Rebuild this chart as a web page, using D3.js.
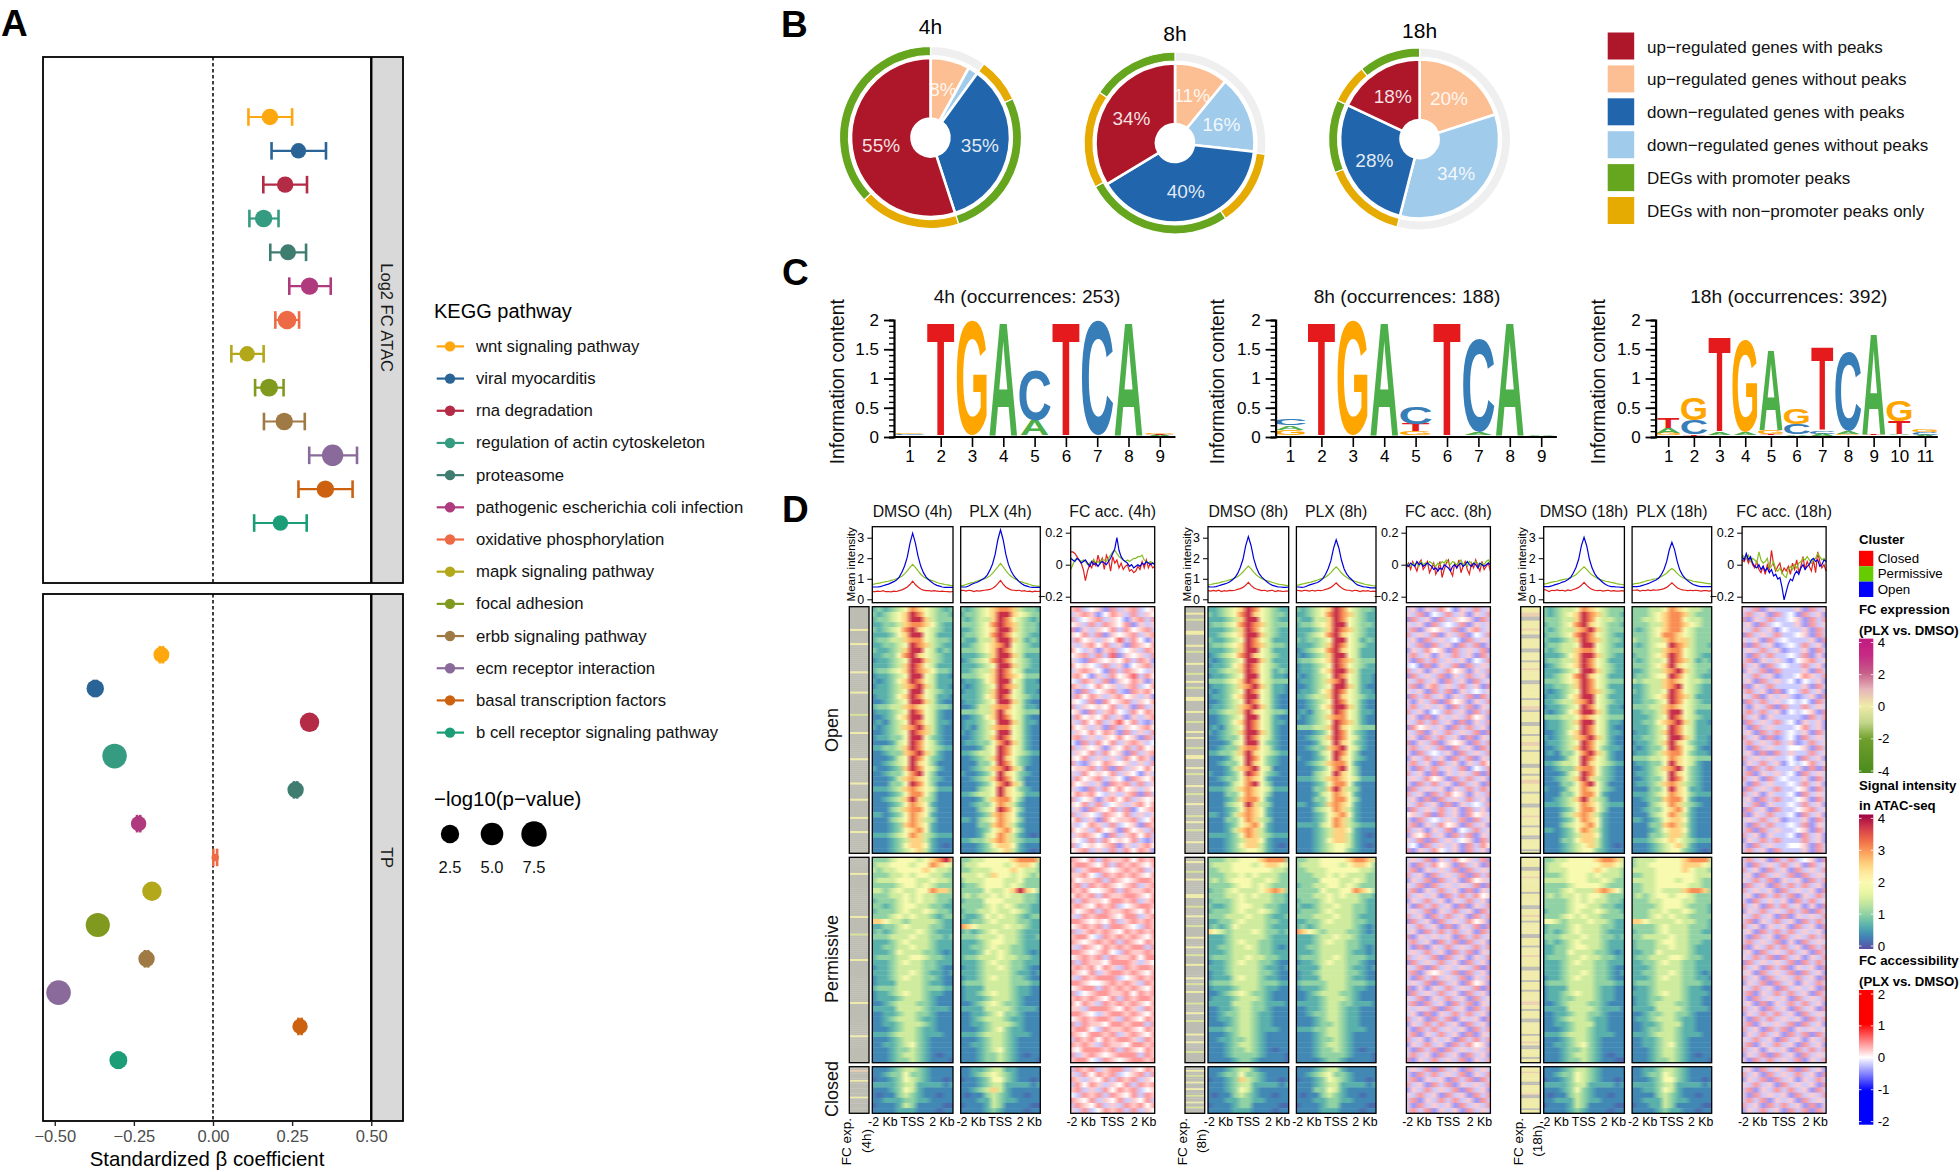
<!DOCTYPE html>
<html><head><meta charset="utf-8">
<script src="https://cdn.jsdelivr.net/npm/d3@7"></script>
<style>
html,body{margin:0;padding:0;background:#fff}
svg{display:block}
text{font-family:"Liberation Sans",Arial,sans-serif}
</style></head><body>
<svg id="c" width="1960" height="1172"></svg>
<script>
// ---------- Panel A ----------
const pathways=["wnt signaling pathway","viral myocarditis","rna degradation","regulation of actin cytoskeleton","proteasome","pathogenic escherichia coli infection","oxidative phosphorylation","mapk signaling pathway","focal adhesion","erbb signaling pathway","ecm receptor interaction","basal transcription factors","b cell receptor signaling pathway"];
const pathwayColors=["#FEA70F","#2A6496","#B42B45","#359B81","#3F7D71","#B03A7E","#EE6A45","#B3A71A","#7F9A1F","#A07A45","#8A6A9A","#CC6210","#1B9E77"];
const atacBeta=[.18,.27,.228,.16,.237,.305,.234,.108,.177,.225,.378,.355,.213];
const atacLo=[.112,.185,.159,.115,.181,.241,.197,.058,.133,.161,.304,.27,.13];
const atacHi=[.25,.357,.297,.207,.294,.372,.272,.16,.223,.29,.455,.441,.296];
const atacP=[2.1,1.9,2.1,2.3,2.0,2.3,2.6,1.9,2.4,2.3,4.3,2.3,1.9];
const tpBeta=[-.163,-.372,.305,-.311,.261,-.235,.007,-.193,-.364,-.21,-.488,.275,-.299];
const tpLo=[-.168,-.377,.3,-.316,.256,-.24,.001,-.198,-.369,-.215,-.493,.27,-.304];
const tpHi=[-.158,-.367,.31,-.306,.266,-.23,.013,-.188,-.359,-.205,-.483,.28,-.294];
const tpP=[2.0,2.3,3.1,6.8,2.1,1.9,.3,3.1,6.4,2.1,6.8,1.9,2.4];
const sizeBreaks=[2.5,5.0,7.5];
const betaTicks=[-.5,-.25,0,.25,.5];
// ---------- Panel B ----------
const pieTimes=["4h","8h","18h"];
const pieLabels=["up−regulated genes with peaks","up−regulated genes without peaks","down−regulated genes with peaks","down−regulated genes without peaks","DEGs with promoter peaks","DEGs with non−promoter peaks only"];
const pieColors=["#AE1729","#FCBF94","#2166AC","#A1CBEB","#66A61E","#E6AB02"];
const pieOrder=[1,3,2,0];
const pie4h=[55,8,35,2];
const pie8h=[34,11,40,16];
const pie18h=[18,20,28,34];
const ringKeys=["none","gold","green","gold","green"];
const ring4h=[10,8,27,18,37];
const ring8h=[27,13.6,26.4,17.4,15.6];
const ring18h=[54,15,13,7,11];
// ---------- Panel C ----------
const logo4h=[[["C",.03,.05],["G",.05,.08]],[["T",.03,1.93]],[["G",.03,1.99]],[["A",.03,1.93]],[["A",.03,.28],["C",.28,1.13]],[["T",.03,1.93]],[["C",.03,1.99]],[["A",.03,1.93]],[["A",.0,.03],["T",.03,.05],["G",.05,.08]]];
const logo8h=[[["G",.03,.12],["A",.12,.19],["C",.2,.32]],[["T",.03,1.93]],[["G",.03,1.99]],[["A",.03,1.93]],[["G",.03,.1],["T",.1,.22],["C",.22,.51]],[["T",.03,1.93]],[["A",.03,.08],["C",.08,1.69]],[["A",.03,1.93]],[["G",.0,.01],["A",.01,.02]]];
const logo18h=[[["G",.03,.07],["A",.07,.16],["T",.16,.34]],[["T",.02,.04],["C",.04,.28],["G",.28,.67]],[["A",.03,.07],["T",.1,1.69]],[["A",.03,.07],["G",.07,1.64]],[["T",.03,.05],["G",.05,.12],["A",.12,1.47]],[["A",.02,.04],["C",.05,.22],["G",.22,.48]],[["A",.02,.05],["C",.05,.1],["T",.12,1.52]],[["G",.03,.05],["A",.05,.1],["C",.1,1.45]],[["T",.03,.05],["A",.05,1.75]],[["A",.03,.05],["T",.05,.26],["G",.26,.63]],[["A",.0,.03],["C",.04,.08],["G",.08,.13]]];
const logoTitles=["4h (occurrences: 253)","8h (occurrences: 188)","18h (occurrences: 392)"];
const logoColors={A:"#4DAF4A",C:"#377EB8",G:"#FFA500",T:"#E41A1C"};
// ---------- Panel D : mean profiles ----------
const clusterNames=["Closed","Permissive","Open"];
const clusterColors=["#E0201C","#84BF20","#0000DC"];
const blue4D=[.6,.6,.6,.62,.66,.7,.74,.8,.86,.94,1.08,1.32,1.62,2.05,2.72,3.22,2.75,2.1,1.62,1.3,1.08,.95,.84,.74,.68,.64,.6,.58,.58,.58,.58];
const green4D=[.72,.75,.78,.8,.83,.86,.88,.92,.95,1.0,1.05,1.12,1.24,1.38,1.55,1.7,1.55,1.38,1.22,1.1,1.02,.96,.92,.88,.82,.78,.75,.72,.7,.68,.66];
const red4D=[.37,.37,.4,.38,.42,.37,.38,.36,.4,.38,.42,.46,.52,.6,.72,.88,.72,.6,.5,.45,.42,.42,.4,.42,.4,.38,.4,.38,.37,.36,.38];
const blue4P=[.6,.6,.6,.65,.72,.78,.82,.88,.96,1.04,1.18,1.42,1.72,2.2,2.9,3.38,2.9,2.2,1.7,1.38,1.15,1.0,.86,.76,.68,.64,.6,.58,.58,.58,.58];
const green4P=[.65,.68,.72,.76,.8,.83,.88,.92,.96,1.0,1.06,1.14,1.26,1.42,1.58,1.75,1.58,1.4,1.24,1.12,1.02,.96,.88,.85,.8,.76,.72,.68,.66,.64,.62];
const red4P=[.42,.44,.4,.44,.42,.38,.42,.4,.42,.44,.46,.48,.54,.62,.76,.92,.74,.6,.52,.46,.44,.42,.44,.4,.42,.38,.4,.36,.4,.38,.4];
const blue8D=[.62,.6,.6,.62,.66,.7,.74,.78,.84,.94,1.06,1.25,1.55,1.95,2.6,3.05,2.62,1.98,1.55,1.25,1.08,.96,.84,.74,.68,.64,.6,.6,.58,.58,.6];
const green8D=[.7,.72,.75,.78,.8,.84,.88,.9,.95,.98,1.04,1.1,1.2,1.33,1.48,1.62,1.48,1.32,1.18,1.08,1.0,.94,.9,.86,.82,.78,.74,.72,.7,.68,.66];
const red8D=[.42,.4,.43,.4,.44,.38,.42,.4,.43,.42,.44,.48,.52,.58,.68,.82,.68,.56,.5,.46,.42,.44,.4,.42,.44,.38,.42,.4,.38,.4,.4];
const blue8P=[.6,.6,.58,.6,.65,.7,.74,.78,.82,.9,1.02,1.22,1.5,1.88,2.48,2.9,2.5,1.9,1.48,1.22,1.06,.94,.8,.7,.66,.62,.6,.58,.56,.56,.56];
const green8P=[.68,.7,.74,.76,.8,.82,.86,.9,.94,.98,1.02,1.08,1.18,1.3,1.45,1.58,1.45,1.28,1.16,1.06,.98,.92,.88,.84,.8,.76,.72,.7,.68,.66,.64];
const red8P=[.44,.42,.4,.44,.42,.4,.44,.4,.44,.42,.44,.48,.52,.58,.68,.8,.66,.56,.48,.44,.44,.4,.44,.42,.38,.42,.4,.42,.38,.4,.38];
const blue18D=[.62,.62,.62,.65,.7,.74,.78,.84,.88,.96,1.06,1.28,1.55,1.95,2.6,3.02,2.6,1.95,1.52,1.24,1.06,.94,.82,.72,.66,.62,.62,.6,.6,.58,.58];
const green18D=[.74,.76,.8,.84,.86,.88,.92,.96,.98,1.0,1.06,1.12,1.2,1.32,1.46,1.58,1.46,1.3,1.18,1.1,1.02,.96,.92,.88,.86,.82,.8,.76,.74,.72,.7];
const red18D=[.48,.44,.38,.44,.42,.46,.42,.44,.4,.46,.42,.48,.52,.58,.68,.82,.68,.56,.48,.44,.42,.44,.4,.42,.44,.4,.42,.4,.4,.42,.4];
const blue18P=[.62,.62,.62,.64,.68,.72,.76,.82,.88,.94,1.02,1.2,1.45,1.82,2.4,2.78,2.42,1.85,1.42,1.18,1.02,.9,.8,.72,.68,.64,.62,.62,.62,.62,.62];
const green18P=[.72,.76,.78,.8,.84,.88,.92,.94,.98,1.0,1.05,1.1,1.18,1.27,1.4,1.5,1.4,1.26,1.14,1.06,1.0,.96,.92,.88,.86,.84,.82,.8,.78,.76,.74];
const red18P=[.44,.44,.46,.4,.44,.42,.46,.42,.46,.44,.46,.48,.52,.58,.68,.8,.68,.56,.5,.46,.44,.42,.44,.42,.44,.42,.4,.42,.42,.4,.42];
// FC accessibility profiles (hundredths)
const fcBlue4=[4,3,2,4,3,1,2,3,1,-1,2,0,1,-1,1,2,1,0,2,4,7,10,17,9,5,3,2,1,-1,0,-2,-1,0,-1,1,0,2,1,0,1,0];
const fcGreen4=[-3,0,3,4,3,2,3,2,0,1,2,3,1,2,1,3,3,2,4,6,8,9,7,5,4,3,2,3,2,3,4,4,5,5,6,3,2,1,2,1,1];
const fcRed4=[8,8,7,5,3,1,-3,-10,-4,0,-2,3,-1,6,1,4,-3,6,3,-4,5,1,3,-2,1,-3,-1,0,-4,-3,-5,-4,-1,-3,2,-2,3,-2,1,-2,-1];
const fcBlue8=[0,-1,1,0,-1,2,0,1,-1,0,1,0,-1,-3,-2,-4,-2,-3,0,-1,-2,-4,-1,0,-2,0,1,-1,0,2,0,-1,1,0,-2,1,0,-1,0,1,0];
const fcGreen8=[1,0,-1,1,0,1,-1,2,0,1,0,2,1,0,-1,1,0,2,1,3,1,0,2,1,0,1,3,0,1,-1,2,1,0,2,1,-1,1,0,2,3,1];
const fcRed8=[-2,1,-3,2,-1,-4,1,3,-3,-1,2,-5,-2,1,-6,-3,2,-8,-3,1,3,-4,-7,1,-2,3,-5,-1,2,-3,-6,1,-2,3,-1,-4,2,-3,-1,1,-4];
const fcBlue18=[5,3,7,3,5,1,-1,-2,0,-3,-1,-4,-2,-5,-3,-7,-6,-9,-8,-14,-22,-17,-12,-9,-10,-6,-4,-6,-2,0,-3,-1,0,3,4,2,3,-1,0,3,2];
const fcGreen18=[6,5,4,6,2,4,3,1,8,3,1,2,4,-2,-1,2,-3,-4,-2,-5,-7,-8,-3,-1,-3,0,-2,1,2,4,3,5,3,1,3,4,7,5,3,4,2];
const fcRed18=[3,2,5,1,4,0,-2,2,-3,-5,-1,-6,0,-3,9,0,-4,-1,1,-5,-2,-4,-1,-6,1,-3,3,-5,-1,5,-3,2,-1,-4,3,-5,8,2,-2,0,-4];
// ---------- Panel D : heatmaps, coarse reading; digit = index in signalLevels ----------
const signalLevels=[.2,.4,.7,1.05,1.45,1.9,2.5,3.0,3.7];
const dmso4h=["2323457654323","3234568754332","2334568864333","2233467765322","3234578654322","2223568854222","2334467754332","2233458764322","3223468854232","2233578654322","1223458864322","2223468754222","2334568765332","1223458854221","2123568754222","1223467864221","2223458854322","1223568754221","1123458864211","2334467654332","1223458754211","1123568854211","1213458754221","2123467864211","1123458764211","1223358853211","1112458754211","2233468754322","1123367864211","1112458753211","1123458653111","2112368754211","1123357853111","1112467653211","1113358753111","2223467654222","1112357753111","1123468643111","1112357652111","1113467753111","2212357652111","1113457643111","1112367652111","1112356752111","2223457643222","1112346642111","1112356652101","1112345642111",
"3334555456786","3445554557654","4344555565443","3334454554433","3444555445443","3333455454333","4434544557663","3334454544333","2333454544332","3323455443322","2333454454332","3334545443233","6654434444322","2233454443322","2323444543222","3334445443323","2223454443222","2233445443222","2223544433212","2333445543322","2223454433222","1223444433211","2223445432212","1223454433211","1222444432211","2333444433322","1223454432211","1222344432111","1123444332111","2222444432221","1122344332111","1123444322111","1122344432111","1112344322111","2223444322211","1112344321111","1122345321111","1112334321111","1112344321011","1112334321110",
"1112344321111","1123353321111","0112354321101","2222344222212","1112354211111","1011343211011","1122233221111","0111243111100","1111222111011"];
const plx4h=["3234567764332","2334568865433","3234468754323","3334578764332","2234568864332","2334578754322","3224468864232","2234567854322","3334568754333","2223468864222","1234578754322","2223458864322","2234468754222","3334568765333","1223568854221","2123458764222","1223468854221","2223568754322","1223458864211","1124467754221","3334468654333","1123568754211","1223458864221","1213467754211","2123458854211","1123468754211","1223357864211","1112458754211","2234458754322","1123468653211","1113358753211","1123467864111","2112358653211","1123468753111","1112357864111","1113458653211","2234458654222","1112467753111","1123357642111","1113458753111","1112367652111","2213457653111","1113367642111","1112356753111","1112457642101","2233467643222","1112356652111","1112345642101",
"3344555567774","3445555456653","3344455565443","4445465545434","3444555445333","2334555454333","3333544568653","3434454544332","2333555444332","3333454543322","2334454454322","3223545443233","2233454443322","7654444544322","2323454443222","3334445443223","2223455443222","2233454433222","2223545433212","2334445443322","2223454433222","1223445433211","2223444432212","1223454433211","2333444433322","1222444432211","1223454432211","1222344432111","1123454332111","2222444432221","1122345332111","1123444322111","1122344432111","1112345322111","2223444322211","1112344321111","1122344321111","1112345321111","1112334321011","1112334321110",
"1122344221111","1123454321111","0112355321101","1112344222212","1123464211111","1011343211011","1112243221111","0111243111100","1111232111011"];
const dmso8h=["2234568754322","3234578654332","2223468854322","2334578764333","2223468754322","2234568864322","3223458754222","2334568764332","2223468854222","1234578654322","2123458864222","1223568754322","2234468754232","1223458854221","3334568754333","1223467864221","2123458754221","1223568854211","1123458754211","1223467864211","2234468654332","1123458854211","1123568754221","1213458754211","2123468864211","1123358754211","1112458853211","1123367754211","2233468654322","1112458753211","1123358653211","1112467854111","2112358753211","1123357652111","1112457853111","2223467654222","1113357653111","1112367752111","1113458643111","1112357652111","2212467652111","1113357643111","1112356752111","1112467642111","2222357643222","1112346652111","1112356642101","1112345542111",
"3334455567773","3444555456654","3344555555443","3334454544433","3434555445433","3333455454333","2334544456763","3334454544332","2333454444332","3223455443322","2333454454322","3334445443223","2233454443322","2323544443222","6543444543323","2223444443222","2223454433222","2233445433212","2223444433222","2333445443322","1223454433211","2223444432212","1223444433211","1222454432211","2333444433322","1222344432211","1123454332111","1222344432111","2222444332221","1122344332111","1123344322111","1122344322111","1112344322111","2223344322211","1112344321111","1122334321111","1112344321111","1112334321011","1112333321110","1111233211110",
"1112344211111","1123353321111","0112364321101","1112344222212","1112354211111","1011343211011","1112233221111","0111233111100","1111222111011"];
const plx8h=["3234568754332","2234578764322","3224468754322","2334568854332","2223468764322","2234578654322","3233458854232","2223468754322","1234578654222","2123468854222","2334568764333","1223458754322","1223568864222","2123458754221","1223467854221","1123458864211","1223568754221","2234468654322","1123458754211","1123568864211","1213458754221","2123467754211","1123458764211","3334468654333","1112358753211","1123468754211","1112458653211","1123367854211","1112458753111","2112358653211","1123467752111","1112357853111","1113458653111","2223467654222","1112357752111","1113368643111","1112457652111","1113357753111","2212367652111","1113457642111","1112356752111","1112357642111","2222457643222","1112346652111","1112346642101","1112356642111","1112345542101","1112345532111",
"3344555567764","3444555456653","3344455555443","3334454544433","3333555445433","2334455454333","3333544557653","3334454544332","2333454444322","3223445443322","2333454443322","3334445443222","2233454443322","2323444443212","7654344433212","2223445443222","2223454433222","2233444433212","2223444432212","2333445433322","1223454433211","2222444432212","1223444433211","1222444432211","2333344433322","1222344432211","1123444332111","1122344432111","2222344332221","1122344322111","1123344322111","1112344322111","1112334322111","2223344322211","1112344321111","1112334321111","1112344321111","1112334321011","1112333321110","1111233211110",
"1112344211111","1123453321111","0112354321101","1112344222212","1113354211111","1011343211011","1112233221111","0111233111100","1111222111011"];
const dmso18h=["3234457654333","3234568764332","3334468754433","2334578654332","3234467864333","2334578754322","3223468764332","2334458854322","3234467754333","2223568864322","2334468754222","1234568754322","2223458864322","2234578654222","3334568754333","2233468754222","2123458764322","1223568854222","2234467854322","1223458754221","2123568864222","3334457654333","1223468854221","1223458754211","1123568754221","2123467864211","1223458754211","1123468753221","1213357864211","1112458754211","2234458654322","1123367753211","1112458753211","1123468643211","1113357853111","2112457653211","1113357752111","1123468643111","2223457653222","1112357753111","1113467642111","1112357652111","1113456752111","2212357642111","1112346652111","1113356642111","1112345642101","1112345532111",
"3344555567764","3445555556654","3444555565443","3334555454443","4444555445433","3333455554333","3334544467653","3434454554333","3333454544332","3333455443322","2333454454332","3334545443333","5543444544322","2333454443322","2323454443222","3334445443323","2323454443222","2233455443222","2233544433212","2333445443322","2223454433222","2223444433211","2223445433212","1223454433211","2333444433322","1222444432211","1223454432211","1223344432211","1123444332111","2222444432221","1122344332111","1123444322111","1122344422111","1112344322111","2223444322211","1112344321111","1122345321111","1112334321111","1112344321011","1112334321100",
"1112344321111","1123354321111","0112354321101","2222344222212","1112353211111","1011343211011","1122243221111","0111243111100","1111232111011"];
const plx18h=["3334457654433","3334567764333","3344567754433","3334467765433","3234567754333","3334577654333","4334467664333","3234558764332","3334467754333","2334568754322","3234458764232","3334568654333","2234467864332","2334558754322","4344467654433","2234467854322","3234458754322","2234568764222","2233458754322","3334467654333","2233468854222","2223458754322","2233567864221","2223458754222","1223468754222","2233458864221","1223468653221","2123358754211","1223467753221","3334457654333","1223358654211","1123467853211","1223458653211","1123358753211","1223467643211","1113358652211","2223457653222","1123367752111","1113457643211","1123356752111","1113457642111","2212356652111","1113367642111","1112356652111","1113346642111","2223456543222","1112345642111","1112345532101",
"3444555567774","3445555566654","4444555565443","3344555555444","4444555455433","3344555554433","3344544467763","3434554554333","3334455544333","3333455543332","3334454454332","3334545443333","6654444544332","3333454443332","2333454443322","3344445443333","2333455443322","2333445443222","2233544443222","2334445543322","2233454433222","2223444433222","2233445433212","2223454433221","2333444433322","1223444432211","2223454432221","1223344432211","1223444332211","2222444432221","1123344332111","1223444322111","1122344422111","1123344322111","2223444322211","1122344321111","1122345321111","1112344321111","1112344321011","1112334321110",
"1122344321111","1123354321111","1112355321101","2222344222212","1122354211111","1111343211011","1122243221111","0112243111100","1111232211011"];
// FC accessibility maps: digit d = (d-4)/5
const fcUnit=.2;
const fc4h=["5634526356345","3565246536354","6345635425636","4536365462535","6253546364563","5463625456356","3645354736425","5356463526546","6435256345365","4563637254536","5326545463652","6454363524563","3565426365435","5642536457364","4365362546525","6534645356346","5263456326564","3646535645352","5436264563546","6354546352635","4526356436465","3645463525356","5364635746325","6453526354564","3546465263536","5635354645263","4263646356534","6354525463645","3546364526356","5463535364652","6325465453536","4556362635464","5364546354253","3645635426546","6453526563635","5326364645354","4656435356263","6345256463545","5463634535646","3526546362456","6354365463535","4635264556346","5346536345265","6453645264536","3565426356463","5436364546325","6345456253564","4563536364652",
"6546365564656","5665463656546","6356654565635","5564365656546","6455636545665","5636565456356","6564456365565","4656365566546","6365546656356","5654656345665","6456365565464","5365665466356","6654546356565","4565636654365","6356565465656","5664365656546","6545656365465","5365465656636","6654564365565","4565636556466","6365546665354","5656465365665","6546356656546","5365666345656","6654456565365","4566365656546","6345665564656","5656546365665","6465365656546","5536665465365","6654356656546","4565665365465","6365546656636","5664365565465","6546656356546","3656465665365","6565365546656","5466656365465","6356545666365","5664365456656",
"3656356635465","5364656345636","6535463656354","3646535463656","5635364656345","4365636546365","6546354635463","3654635365646","5363465636354"];
const fc8h=["3525364253635","5362436352536","2635263545263","5352634362535","3625453625635","6353625362436","3526353426353","5362635263625","2536452635362","3635253635263","5263635352436","3426253626353","6352536452536","2635362536352","5363526352635","3625635363526","5352636253435","2636352536263","5253626452536","3635352636253","6352436352636","3526253536452","5363635262536","2645352636352","5362536353626","3526363526253","6253625452636","3635362635263","5263435263536","2536352636253","3635263525364","5263635362436","6352625353626","3536452636352","5263635263526","2635352536363","6352636452536","3526263536352","5363526253436","2635363526352","4536263526453","5263435362635","3625364526352","6352536243635","2546352636253","5362635345263","3426353526364","6253643526352",
"3536253645362","5263645263526","3625353626353","6352635362636","2536263526453","5362635353626","3625363526253","6353526363645","2536352536352","5263635262536","3536253635263","6352636352636","2635263536452","5363526253626","3526363635263","6253535263635","3635263626352","5262536353636","3536352636253","6353626352536","2635363526352","5362635353626","3625453626352","5263635362536","3536263526452","6252536353626","2635363526352","5362536352635","3626352636253","5353626352636","3526253636352","6352636253526","2536363526352","5263635352636","3625363526253","6352535263636","2536352636452","5263626353536","3635263526352","6253635362536",
"3536263526353","5263635362536","3625352636263","6352636253536","2536353626352","5363526352636","3625363635263","5263535263536","3636253526353"];
const fc18h=["5362533352635","3635263426352","6253633452636","3526343352635","5363524335263","2635363345263","5352634333526","6263523436352","3536352335263","5263633436252","3625353245635","6352634336352","2536263335263","5363523346536","3526353424352","6253633335263","3635262436352","5362535323526","2636353434263","5253626336353","3636352434526","6352533332636","2635363425352","5263533346352","3526363435263","6352623426353","3635363523635","5263533445263","3526263533635","6353533426352","2536352434635","5263633352626","3625353426353","6352634335263","5263533436352","2635363345263","6352533426353","3526363345263","5362533436352","2635263345635","6253633426352","3536352335263","5263633436253","3626353345263","6352533426352","2536363336352","5263533445263","3635263335263",
"3635263634526","5263536352635","6352635263536","3526353626353","5363625352636","2635263636352","6353526353526","3526363625363","5263535263635","6352636352526","2536353636263","5363526253536","3625363526363","6352535263526","3526363635352","5263526353636","3635362526353","6253636352636","3526353635263","5363626352536","2635353626363","6352636253526","3526353626352","6352635363526","2536263525363","5363526353526","3625363635263","5263535263536","3526253636352","6352635263526","2536363526353","5263635352636","3625353626352","6352636253535","2536352636263","5363526352536","3625363526352","6352535263636","2536263526353","5263635362536",
"3526353626352","6352635363526","2536263525363","5363526353526","3625363635263","5263535263536","3636253526353","6352636352625","2536352636263"];
// FC expression strips: '-' is no value (grey), digit d = (d-4)/2
const strip4h=["-----------4------4-------------4---------4----------3--------4------------4-----------4-------4--------4------4----------","--------4---------------------4--------3------------4---------------------4----------------4-------------","--5-----4---------4---------"];
const strip8h=["---4--3-----44-----4--3-----4----3---4--3----44-----4----3----4--4----3---44----4--3-----4---3----4-----3--4---3-----4-----","--4----3---4-------44----3----4----3-----4----4---3----4------4--3---4-----3----4---3------4---4----3-----","--4--3---4---4---3---4--3---"];
const strip18h=["44455--4444544--44444--4444-444544444--4444444-44455-44444--4444-4445544-444444--444-44554444-44444--444454444-4444--44444-4","44444--44454444444-444444--444544-444444--4444-4444544444--44444-4444-444445544-4444--444444-44454--4444-44","444544444--444445--444444-44"];
const hmTicks=["-2 Kb","TSS","2 Kb"];

// ---------- helpers ----------
const svg=d3.select("#c");
function T(x,y,s,o={}){
  const t=svg.append("text").attr("x",x).attr("y",y).text(s)
    .attr("font-size",o.size||14).attr("fill",o.fill||"#000")
    .attr("text-anchor",o.anchor||"start").attr("dominant-baseline",o.base||"central");
  if(o.weight)t.attr("font-weight",o.weight);
  if(o.rot)t.attr("transform",`rotate(${o.rot},${x},${y})`);
  return t;
}
[["A",1,36],["B",781,37],["C",782,285],["D",782,522]].forEach(d=>T(d[1],d[2],d[0],{size:37,weight:"bold",base:"auto"}));

// ---------- Panel A ----------
const xBeta=d3.scaleLinear().domain([-.5,.5]).range([54.75,371.25]);
const rP=d3.scaleLinear().domain([0,2.5,5,7.5]).range([3,9.2,11.3,12.7]);
const yAtac=d3.scalePoint().domain(pathways).range([117,523]);
const yTp=d3.scalePoint().domain(pathways).range([654.7,1060.2]);
const panels=[{y0:57,y1:583,y:yAtac,b:atacBeta,lo:atacLo,hi:atacHi,p:atacP,label:"Log2 FC ATAC",ly:317.6},
              {y0:594,y1:1121,y:yTp,b:tpBeta,lo:tpLo,hi:tpHi,p:tpP,label:"TP",ly:857.5}];
panels.forEach(P=>{
  svg.append("rect").attr("x",371.25).attr("y",P.y0).attr("width",32).attr("height",P.y1-P.y0).attr("fill","#d9d9d9");
  svg.append("line").attr("x1",xBeta(0)).attr("x2",xBeta(0)).attr("y1",P.y0).attr("y2",P.y1).attr("stroke","#000").attr("stroke-width",1.5).attr("stroke-dasharray","3.5,2.5");
  const g=svg.append("g");
  pathways.forEach((n,i)=>{
    const y=P.y(n),c=pathwayColors[i],x0=xBeta(P.lo[i]),x1=xBeta(P.hi[i]);
    g.append("line").attr("x1",x0).attr("x2",x1).attr("y1",y).attr("y2",y).attr("stroke",c).attr("stroke-width",2.2);
    [x0,x1].forEach(x=>g.append("line").attr("x1",x).attr("x2",x).attr("y1",y-8.8).attr("y2",y+8.8).attr("stroke",c).attr("stroke-width",2.6));
    g.append("circle").attr("cx",xBeta(P.b[i])).attr("cy",y).attr("r",rP(P.p[i])).attr("fill",c);
  });
  svg.append("rect").attr("x",43).attr("y",P.y0).attr("width",360).attr("height",P.y1-P.y0).attr("fill","none").attr("stroke","#000").attr("stroke-width",1.8);
  svg.append("line").attr("x1",371.25).attr("x2",371.25).attr("y1",P.y0).attr("y2",P.y1).attr("stroke","#000").attr("stroke-width",2.4);
  T(386.5,P.ly,P.label,{size:16.5,anchor:"middle",rot:90,fill:"#1a1a1a"});
});
const axA=svg.append("g").attr("transform","translate(0,1121)").call(d3.axisBottom(xBeta).tickValues(betaTicks).tickSize(5).tickPadding(4).tickFormat(d=>d3.format(".2f")(d).replace("-","−")));
axA.select(".domain").remove();
axA.selectAll("text").attr("font-size",16.5).attr("fill","#4d4d4d").attr("font-family","Liberation Sans");
axA.selectAll("line").attr("stroke","#222").attr("stroke-width",1.4);
T(207,1158.7,"Standardized β coefficient",{size:20.4,anchor:"middle"});
// legend
T(434,311,"KEGG pathway",{size:20});
const yLeg=d3.scalePoint().domain(pathways).range([346.4,732.6]);
pathways.forEach((n,i)=>{
  const y=yLeg(n);
  svg.append("line").attr("x1",436.7).attr("x2",464).attr("y1",y).attr("y2",y).attr("stroke",pathwayColors[i]).attr("stroke-width",2.2);
  svg.append("circle").attr("cx",450).attr("cy",y).attr("r",5.2).attr("fill",pathwayColors[i]);
  T(476,y,n,{size:16.7,fill:"#111"});
});
T(434,799,"−log10(p−value)",{size:20.4});
const xSize=d3.scalePoint().domain(sizeBreaks).range([450,534]);
sizeBreaks.forEach(b=>{
  svg.append("circle").attr("cx",xSize(b)).attr("cy",834).attr("r",rP(b)).attr("fill","#000");
  T(xSize(b),867,d3.format(".1f")(b),{size:16.5,anchor:"middle",fill:"#111"});
});

// ---------- Panel B ----------
const ringCol={none:"#EFEFEF",gold:"#E6AB02",green:"#66A61E"};
const pieCfg=[[pie4h,ring4h,930.5,137.5,26.5],[pie8h,ring8h,1175,143,33],[pie18h,ring18h,1419.6,139,30]];
pieCfg.forEach((c,ci)=>{
  const g=svg.append("g").attr("transform",`translate(${c[2]},${c[3]})`);
  const ordered=pieOrder.map(k=>({k,v:c[0][k]}));
  const arcs=d3.pie().sort(null).value(d=>d.v)(ordered);
  const arc=d3.arc().innerRadius(19).outerRadius(79.5);
  g.selectAll(null).data(arcs).join("path").attr("d",arc).attr("fill",d=>pieColors[d.data.k]).attr("stroke","#fff").attr("stroke-width",2.6);
  const ra=d3.pie().sort(null)(c[1]);
  const ringArc=d3.arc().innerRadius(82).outerRadius(91);
  g.selectAll(null).data(ra).join("path").attr("d",ringArc).attr("fill",(d,i)=>ringCol[ringKeys[i]]).attr("stroke","#fff").attr("stroke-width",1.2);
  const lab=d3.arc().innerRadius(50).outerRadius(50);
  arcs.filter(d=>d.data.v>=8).forEach(d=>{
    const p=lab.centroid(d);
    svg.append("text").attr("x",c[2]+p[0]).attr("y",c[3]+p[1]).text(d.data.v+"%").attr("fill","#fff").attr("fill-opacity",.88)
      .attr("font-size",19).attr("text-anchor","middle").attr("dominant-baseline","central");
  });
  T(c[2],c[4],pieTimes[ci],{size:21,anchor:"middle"});
});
const yPL=d3.scalePoint().domain(pieLabels).range([46,210.5]);
pieLabels.forEach((n,i)=>{
  svg.append("rect").attr("x",1607.7).attr("y",yPL(n)-13.5).attr("width",26.5).attr("height",27).attr("fill",pieColors[i]);
  T(1647,yPL(n)+1,n,{size:17,fill:"#111"});
});

// ---------- Panel C ----------
const capH=.688,gW={A:.72,C:.62,G:.67,T:.57};
const logoCfg=[{d:logo4h,x0:909.4,dx:31.3,ax:894,tc:1027,ly:837.4,lw:29.5,tw:26},
               {d:logo8h,x0:1290,dx:31.4,ax:1275.6,tc:1407,ly:1218,lw:29.5,tw:26},
               {d:logo18h,x0:1668.2,dx:25.68,ax:1655.6,tc:1788.8,ly:1599,lw:24.4,tw:21}];
const yBits=d3.scaleLinear().domain([0,2]).range([437,320]);
logoCfg.forEach((c,ci)=>{
  const n=c.d.length;
  const x=d3.scaleLinear().domain([1,n]).range([c.x0,c.x0+(n-1)*c.dx]);
  const g=svg.append("g");
  c.d.forEach((st,pi)=>st.forEach(s=>{
    const h=yBits(s[1])-yBits(s[2]),w=s[0]==="T"?c.tw:c.lw;
    const over=(s[0]==="G"||s[0]==="C")?.024:0;
    g.append("text").text(s[0]).attr("font-size",100).attr("font-weight","bold").attr("text-anchor","middle").attr("fill",logoColors[s[0]])
      .attr("transform",`translate(${x(pi+1)},${yBits(s[1])-(over/2)*100*(h/((capH+over)*100))}) scale(${w/(gW[s[0]]*100)},${h/((capH+over)*100)})`);
  }));
  const xa=d3.scaleLinear().domain([.5,n+.5]).range([x(1)-c.dx/2,x(n)+c.dx/2]);
  const xg=svg.append("g").attr("transform","translate(0,437)").call(d3.axisBottom(xa).tickValues(d3.range(1,n+1)).tickFormat(d3.format("d")).tickSizeInner(10).tickSizeOuter(0).tickPadding(3));
  xg.select(".domain").attr("stroke-width",2).attr("d",`M${c.ax},0H${x(n)+c.dx/2}`);
  xg.selectAll("line").attr("stroke-width",1.6);
  xg.selectAll("text").attr("font-size",17).attr("font-family","Liberation Sans");
  const ym=svg.append("g").attr("transform",`translate(${c.ax},0)`).call(d3.axisLeft(yBits).tickValues(d3.range(0,20).map(i=>i/10).concat([2])).tickSize(5).tickFormat(""));
  ym.select(".domain").attr("stroke-width",2.2);ym.selectAll("line").attr("stroke-width",1.4);
  const yM=svg.append("g").attr("transform",`translate(${c.ax},0)`).call(d3.axisLeft(yBits).tickValues([0,.5,1,1.5,2]).tickSize(10).tickPadding(5).tickFormat(d3.format("")));
  yM.select(".domain").remove();yM.selectAll("line").attr("stroke-width",1.8);
  yM.selectAll("text").attr("font-size",17).attr("font-family","Liberation Sans");
  T(c.ly,381.7,"Information content",{size:19.3,anchor:"middle",rot:-90,fill:"#111"});
  T(c.tc,296,logoTitles[ci],{size:19.2,anchor:"middle",fill:"#111"});
});

// ---------- Panel D ----------
const signalColor=d3.scaleSequential(t=>d3.interpolateSpectral(1-t)).domain([0,4]);
const fcColor=d3.scaleLinear().domain([-2,-1,0,1,2]).range(["#0000ff","#0000ff","#ffffff","#ff0000","#ff0000"]).clamp(true);
const expColor=d3.scaleLinear().domain([-4,-2,-1,0,1,2,3,4]).range(["#4b8b1e","#6f9f2c","#c3d68a","#f0eba8","#e6b4b8","#c65c88","#c62a85","#c21a7f"]);
const defs=svg.append("defs");
let gid=0;
function gradFill(vals,colorFn){
  const id="g"+(gid++);
  const x=d3.scaleLinear().domain([0,vals.length-1]).range([0,100]);
  defs.append("linearGradient").attr("id",id).selectAll("stop").data(vals).join("stop")
    .attr("offset",(d,i)=>x(i)+"%").attr("stop-color",d=>colorFn(d));
  return `url(#${id})`;
}
const blockY=[[606.7,853.3,48],[857.3,1062.7,40],[1066.7,1113.3,9]];
function heat(rows,x0,x1,toVal,colorFn){
  let off=0;
  blockY.forEach(b=>{
    const sub=rows.slice(off,off+b[2]);off+=b[2];
    const y=d3.scaleBand().domain(d3.range(sub.length)).range([b[0],b[1]]);
    svg.append("g").selectAll("rect").data(sub).join("rect").attr("x",x0).attr("width",x1-x0)
      .attr("y",(d,i)=>y(i)).attr("height",y.bandwidth()+.4)
      .attr("fill",d=>gradFill(Array.from(d,toVal),colorFn));
    svg.append("rect").attr("x",x0).attr("y",b[0]).attr("width",x1-x0).attr("height",b[1]-b[0]).attr("fill","none").attr("stroke","#000").attr("stroke-width",1.3);
  });
}
function strip(parts,x0,x1){
  parts.forEach((s,k)=>{
    const b=blockY[k];
    const y=d3.scaleBand().domain(d3.range(s.length)).range([b[0],b[1]]);
    svg.append("g").selectAll("rect").data(Array.from(s)).join("rect").attr("x",x0).attr("width",x1-x0)
      .attr("y",(d,i)=>y(i)).attr("height",y.bandwidth()+.3)
      .attr("fill",d=>d==="-"?"#BDBDB3":expColor((+d-4)/2));
    svg.append("rect").attr("x",x0).attr("y",b[0]).attr("width",x1-x0).attr("height",b[1]-b[0]).attr("fill","none").attr("stroke","#000").attr("stroke-width",1.3);
  });
}
const yMean=d3.scaleLinear().domain([0,3]).range([599.3,537.7]);
const yFc=d3.scaleLinear().domain([-.2,.2]).range([596.7,532.7]);
const ptop=526.7,pbot=602.7;
function profile(x0,x1,series,y,acc,ticks,fmt){
  series.forEach(s=>{
    const x=d3.scaleLinear().domain([0,s.v.length-1]).range([x0,x1]);
    svg.append("path").attr("d",d3.line().x((d,i)=>x(i)).y(d=>y(acc(d)))(s.v)).attr("fill","none").attr("stroke",s.c).attr("stroke-width",1.2);
  });
  svg.append("rect").attr("x",x0).attr("y",ptop).attr("width",x1-x0).attr("height",pbot-ptop).attr("fill","none").attr("stroke","#000").attr("stroke-width",1.3);
  if(ticks){
    const a=svg.append("g").attr("transform",`translate(${x0},0)`).call(d3.axisLeft(y).tickValues(ticks).tickSize(5).tickPadding(3).tickFormat(fmt));
    a.select(".domain").remove();
    a.selectAll("text").attr("font-size",12.5).attr("font-family","Liberation Sans");
    a.selectAll("line").attr("stroke-width",1);
  }
}
function bottomLabels(x0,x1){
  const x=d3.scalePoint().domain(hmTicks).range([x0+10.5,x1-11]);
  hmTicks.forEach(t=>T(x(t),1121.7,t,{size:12.3,anchor:"middle"}));
}
const times=[
 {h:"4h",d:dmso4h,p:plx4h,f:fc4h,s:strip4h,pd:[red4D,green4D,blue4D],pp:[red4P,green4P,blue4P],fc:[fcRed4,fcGreen4,fcBlue4]},
 {h:"8h",d:dmso8h,p:plx8h,f:fc8h,s:strip8h,pd:[red8D,green8D,blue8D],pp:[red8P,green8P,blue8P],fc:[fcRed8,fcGreen8,fcBlue8]},
 {h:"18h",d:dmso18h,p:plx18h,f:fc18h,s:strip18h,pd:[red18D,green18D,blue18D],pp:[red18P,green18P,blue18P],fc:[fcRed18,fcGreen18,fcBlue18]}];
const sig=c=>signalLevels[+c], fcv=c=>(+c-4)*fcUnit;
times.forEach((t,i)=>{
  const o=335.7*i;
  const X={st:[849.3+o,869+o],d:[872.3+o,953+o],p:[960.7+o,1040.3+o],f:[1070.7+o,1154.7+o]};
  T((X.d[0]+X.d[1])/2,511.7,`DMSO (${t.h})`,{size:15.8,anchor:"middle",fill:"#111"});
  T((X.p[0]+X.p[1])/2,511.7,`PLX (${t.h})`,{size:15.8,anchor:"middle",fill:"#111"});
  T((X.f[0]+X.f[1])/2,511.7,`FC acc. (${t.h})`,{size:15.8,anchor:"middle",fill:"#111"});
  const ser=a=>a.map((v,k)=>({v,c:clusterColors[k]}));
  profile(X.d[0],X.d[1],ser(t.pd),yMean,d=>d,[0,1,2,3],d3.format("d"));
  profile(X.p[0],X.p[1],ser(t.pp),yMean,d=>d,null);
  profile(X.f[0],X.f[1],ser(t.fc),yFc,d=>d/100,[-.2,0,.2],d=>d===0?"0":d3.format(".1f")(d));
  T(851+o,564.3,"Mean intensity",{size:11.5,anchor:"middle",rot:-90});
  strip(t.s,X.st[0],X.st[1]);
  heat(t.d,X.d[0],X.d[1],sig,signalColor);
  heat(t.p,X.p[0],X.p[1],sig,signalColor);
  heat(t.f,X.f[0],X.f[1],fcv,fcColor);
  bottomLabels(X.d[0],X.d[1]);bottomLabels(X.p[0],X.p[1]);bottomLabels(X.f[0],X.f[1]);
  T(846.7+o,1141.7,"FC exp.",{size:13.5,anchor:"middle",rot:-90});
  T(866+o,1141,`(${t.h})`,{size:13.5,anchor:"middle",rot:-90});
});
T(831.7,730,"Open",{size:18,anchor:"middle",rot:-90,fill:"#111"});
T(831.7,959,"Permissive",{size:18,anchor:"middle",rot:-90,fill:"#111"});
T(831.7,1089,"Closed",{size:18,anchor:"middle",rot:-90,fill:"#111"});
// ---------- right legends ----------
const LX=1859;
function boldT(y,s){T(LX,y,s,{size:13.2,weight:"bold"});}
boldT(539.8,"Cluster");
const ySw=d3.scaleBand().domain(clusterNames).range([550.8,597]);
clusterNames.forEach((n,i)=>{
  svg.append("rect").attr("x",LX).attr("width",14.3).attr("y",ySw(n)).attr("height",ySw.bandwidth()).attr("fill",["#FF0000","#66CC00","#0000FF"][i]);
  T(1877.7,ySw(n)+ySw.bandwidth()/2,n,{size:13.3});
});
function colorbar(y0,y1,tickVals,scale,colorFn,dom){
  const n=24,vals=d3.range(n+1).map(i=>dom[1]+(dom[0]-dom[1])*i/n);
  const id="cb"+(gid++);
  const lg=defs.append("linearGradient").attr("id",id).attr("x1","0").attr("x2","0").attr("y1","0").attr("y2","1");
  vals.forEach((v,i)=>lg.append("stop").attr("offset",(i/n*100)+"%").attr("stop-color",colorFn(v)));
  svg.append("rect").attr("x",LX).attr("y",y0).attr("width",14.3).attr("height",y1-y0).attr("fill",`url(#${id})`);
  tickVals.forEach(v=>{
    const y=scale(v);
    svg.append("line").attr("x1",LX).attr("x2",LX+2.5).attr("y1",y).attr("y2",y).attr("stroke","#fff").attr("stroke-width",.8);
    svg.append("line").attr("x1",LX+11.8).attr("x2",LX+14.3).attr("y1",y).attr("y2",y).attr("stroke","#fff").attr("stroke-width",.8);
    T(1877.7,y,String(v),{size:13.3});
  });
}
boldT(609.7,"FC expression");boldT(630.7,"(PLX vs. DMSO)");
colorbar(638.6,773,[4,2,0,-2,-4],d3.scaleLinear().domain([-4,4]).range([771,642.5]),expColor,[-4,4]);
boldT(785.6,"Signal intensity");boldT(805.4,"in ATAC-seq");
colorbar(814.5,949,[4,3,2,1,0],d3.scaleLinear().domain([0,4]).range([946,818.4]),signalColor,[0,4]);
boldT(960.7,"FC accessibility");boldT(981.7,"(PLX vs. DMSO)");
colorbar(990,1124.7,[2,1,0,-1,-2],d3.scaleLinear().domain([-2,2]).range([1121.6,994]),fcColor,[-2,2]);
</script></body></html>
